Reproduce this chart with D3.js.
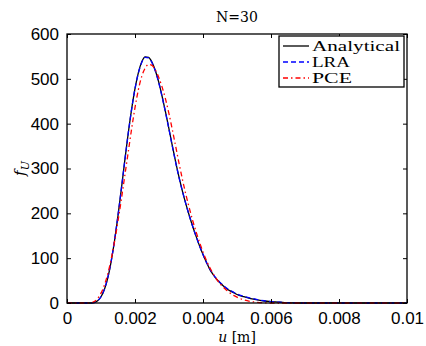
<!DOCTYPE html>
<html>
<head>
<meta charset="utf-8">
<script src="https://cdn.jsdelivr.net/npm/d3@7"></script>
<style>
  body { margin: 0; background: #fff; }
  svg { display: block; }
</style>
</head>
<body>
<div id="chart"></div>
<script>
// displacement grid (m)
let uGrid = [0, 0.0006, 0.0007, 0.0008, 0.0009, 0.0010, 0.0011, 0.0012, 0.0013, 0.0014, 0.0015,
    0.0016, 0.0017, 0.0018, 0.0019, 0.0020, 0.0021, 0.0022, 0.0023, 0.0024, 0.0025,
    0.0026, 0.0027, 0.0028, 0.0029, 0.0030, 0.0031, 0.0032, 0.0033, 0.0034, 0.0035,
    0.0036, 0.0037, 0.0038, 0.0039, 0.0040, 0.0041, 0.0042, 0.0043, 0.0044, 0.0045,
    0.0046, 0.0047, 0.0048, 0.0049, 0.0050, 0.0052, 0.0054, 0.0056, 0.0058, 0.0060,
    0.0062, 0.0064, 0.0066, 0.0070, 0.0080, 0.0090, 0.0100];

let analytical = [0, 0, 0, 1, 5, 14, 30, 56, 93, 140, 195,
    255, 318, 378, 432, 478, 514, 538, 549, 548, 537,
    518, 492, 460, 425, 388, 350, 313, 279, 248, 220,
    194, 170, 148, 127, 108, 91, 75, 63, 53, 45,
    38, 32, 27, 23, 19, 14, 10, 7, 4.5, 3,
    2, 1, 0.5, 0, 0, 0, 0];

let lra = [0, 0, 0, 1, 5, 14, 31, 57, 94, 141, 196,
    256, 318, 378, 432, 478, 513, 537, 548, 547, 536,
    517, 491, 459, 424, 387, 349, 312, 278, 248, 220,
    194, 170, 148, 127, 108, 91, 76, 64, 54, 46,
    39, 33, 28, 24, 20, 15, 11, 7.5, 5, 3,
    2, 1, 0.5, 0, 0, 0, 0];

let pce = [0, 0, 0.5, 3, 10, 22, 40, 65, 98, 138, 183,
    232, 284, 336, 388, 436, 476, 506, 524, 532, 530,
    520, 503, 481, 454, 422, 386, 348, 310, 274, 241,
    211, 183, 158, 135, 114, 95, 79, 65, 53, 43,
    35, 28, 22, 17, 13, 7, 3.5, 1.5, 0.5, 0,
    0, 0, 0, 0, 0, 0, 0];

let xTicks = [0, 0.002, 0.004, 0.006, 0.008, 0.01];
let yTicks = [0, 100, 200, 300, 400, 500, 600];
let seriesNames = ['Analytical', 'LRA', 'PCE'];

window.onload = () => {
    let width = 426, height = 346;
    let left = 67, right = 407, top = 34, bottom = 303;

    let svg = d3.select('#chart').append('svg').attr('width', width).attr('height', height);

    let x = d3.scaleLinear().domain([0, 0.01]).range([left, right]);
    let y = d3.scaleLinear().domain([0, 600]).range([bottom, top]);

    let styles = [
        { color: '#000000', dash: null, len: 88 },
        { color: '#0000ff', dash: '5,3', len: 38 },
        { color: '#ff0000', dash: '5,3,1.5,3', len: 40 }
    ];
    let allSeries = [analytical, lra, pce];

    let line = d3.line()
        .x((d, i) => x(uGrid[i]))
        .y(d => y(d))
        .curve(d3.curveMonotoneX);

    allSeries.forEach((s, k) => {
        svg.append('path')
        .datum(s)
        .attr('d', line)
        .attr('fill', 'none')
        .attr('stroke', styles[k].color)
        .attr('stroke-width', 1.3)
        .attr('stroke-dasharray', styles[k].dash);
    });

    // box + inward ticks on all sides
    let fmt = d => d === 0 ? '0' : d3.format('.3~f')(d);
    let bottomAxis = svg.append('g').attr('transform', `translate(0,${bottom})`)
        .call(d3.axisBottom(x).tickValues(xTicks).tickSizeInner(-4).tickSizeOuter(0).tickPadding(9).tickFormat(fmt));
    svg.append('g').attr('transform', `translate(0,${top})`)
        .call(d3.axisTop(x).tickValues(xTicks).tickSizeInner(-4).tickSizeOuter(0).tickFormat(''));
    let leftAxis = svg.append('g').attr('transform', `translate(${left},0)`)
        .call(d3.axisLeft(y).tickValues(yTicks).tickSizeInner(-4).tickSizeOuter(0).tickPadding(8));
    svg.append('g').attr('transform', `translate(${right},0)`)
        .call(d3.axisRight(y).tickValues(yTicks).tickSizeInner(-4).tickSizeOuter(0).tickFormat(''));

    svg.selectAll('.domain').remove();
    svg.selectAll('.tick line').attr('stroke', '#000');
    [bottomAxis, leftAxis].forEach(a => {
        a.selectAll('text')
        .attr('fill', '#000')
        .attr('font-family', 'Liberation Sans, Arial, sans-serif')
        .attr('font-size', '17px');
    });
    bottomAxis.selectAll('text').attr('dy', '0.71em');

    svg.append('rect')
    .attr('x', left).attr('y', top)
    .attr('width', right - left).attr('height', bottom - top)
    .attr('fill', 'none').attr('stroke', '#000').attr('stroke-width', 1.3);

    // title and labels
    svg.append('text')
    .attr('x', (left + right) / 2).attr('y', 22)
    .attr('text-anchor', 'middle')
    .attr('font-family', 'DejaVu Serif, serif')
    .attr('font-size', '14px')
    .text('N=30');

    let xl = svg.append('text')
    .attr('x', (left + right) / 2).attr('y', 342)
    .attr('text-anchor', 'middle')
    .attr('font-family', 'DejaVu Serif, serif')
    .attr('font-size', '14px');
    xl.append('tspan').attr('font-style', 'italic').text('u');
    xl.append('tspan').text(' [m]');

    let yl = svg.append('text')
    .attr('transform', `translate(25,${(top + bottom) / 2}) rotate(-90)`)
    .attr('text-anchor', 'middle')
    .attr('font-family', 'DejaVu Serif, serif')
    .attr('font-size', '15px');
    yl.append('tspan').attr('font-style', 'italic').text('f');
    yl.append('tspan').attr('font-style', 'italic').attr('font-size', '11px').attr('dy', 4).text('U');

    // legend
    let lg = svg.append('g');
    lg.append('rect')
    .attr('x', 279).attr('y', 36).attr('width', 125).attr('height', 51)
    .attr('fill', '#fff').attr('stroke', '#000').attr('stroke-width', 1.3);

    seriesNames.forEach((name, k) => {
        let cy = 46 + k * 16;
        lg.append('line')
        .attr('x1', 283).attr('x2', 309).attr('y1', cy).attr('y2', cy)
        .attr('stroke', styles[k].color).attr('stroke-width', 1.3)
        .attr('stroke-dasharray', styles[k].dash);
        lg.append('text')
        .attr('x', 312).attr('y', cy + 5)
        .attr('font-family', 'Liberation Serif, serif')
        .attr('font-size', '14px')
        .attr('textLength', styles[k].len)
        .attr('lengthAdjust', 'spacingAndGlyphs')
        .text(name);
    });
};
</script>
</body>
</html>
